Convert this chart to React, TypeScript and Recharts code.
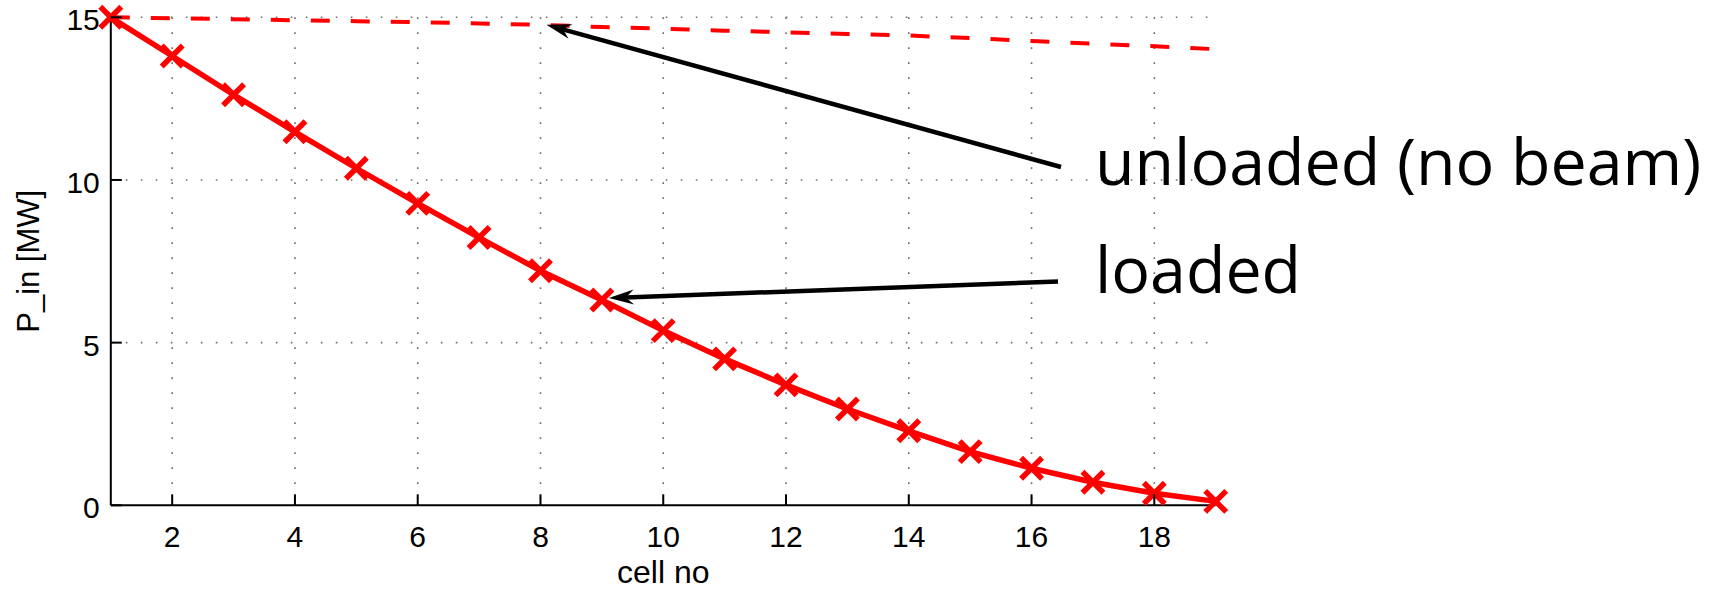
import React from 'react';
import { LineChart, Line, XAxis, YAxis, CartesianGrid } from 'recharts';

// ---- data ----
const cells = [1, 2, 3, 4, 5, 6, 7, 8, 9, 10, 11, 12, 13, 14, 15, 16, 17, 18, 19];
const loaded = [15.0, 13.81, 12.62, 11.48, 10.36, 9.28, 8.23, 7.21, 6.31, 5.37, 4.5, 3.7, 2.96, 2.29, 1.65, 1.14, 0.71, 0.37, 0.12];
const unloaded = [15.0, 14.97, 14.94, 14.91, 14.88, 14.85, 14.81, 14.77, 14.7, 14.65, 14.59, 14.54, 14.49, 14.44, 14.36, 14.27, 14.19, 14.11, 14.02];
const xTicks = [2, 4, 6, 8, 10, 12, 14, 16, 18];
const yTicks = [0, 5, 10, 15];
const xLabel = 'cell no';
const yLabel = 'P_in [MW]';
const noteUnloaded = 'unloaded (no beam)';
const noteLoaded = 'loaded';

const data = cells.map((c, i) => ({ cell: c, loaded: loaded[i], unloaded: unloaded[i] }));

// ---- layout ----
const W = 1723;
const H = 589;
const PLOT_LEFT = 110.8;
const PLOT_RIGHT = 1215.7;
const PLOT_TOP = 17.3;
const PLOT_BOTTOM = 505.3;
const Y_AXIS_W = 100;
const X_AXIS_H = 40;
const X_DOMAIN: [number, number] = [1, 19];
const Y_DOMAIN: [number, number] = [0, 15];
const RED = '#ff0000';
const AXIS_FONT = '"Liberation Sans", Arial, Helvetica, sans-serif';
const NOTE_FONT = '"Open Sans", "Noto Sans", sans-serif';

const px = (x: number) => PLOT_LEFT + ((x - X_DOMAIN[0]) / (X_DOMAIN[1] - X_DOMAIN[0])) * (PLOT_RIGHT - PLOT_LEFT);
const py = (y: number) => PLOT_BOTTOM - ((y - Y_DOMAIN[0]) / (Y_DOMAIN[1] - Y_DOMAIN[0])) * (PLOT_BOTTOM - PLOT_TOP);

const XMark = (props: any) => {
  const { cx, cy } = props;
  if (cx == null || cy == null) return null;
  const s = 10.5;
  return (
    <path
      d={`M${cx - s},${cy - s}L${cx + s},${cy + s}M${cx - s},${cy + s}L${cx + s},${cy - s}`}
      stroke={RED}
      strokeWidth={5.5}
      fill="none"
    />
  );
};

const XTick = (props: any) => {
  const { x, y, payload } = props;
  return (
    <g>
      <line x1={x} y1={y} x2={x} y2={y - 11} stroke="#000" strokeWidth={2} />
      <text x={x} y={y + 41.4} textAnchor="middle" fontSize={30} fontFamily={AXIS_FONT} fill="#000">
        {payload.value}
      </text>
    </g>
  );
};

const YTick = (props: any) => {
  const { x, y, payload } = props;
  return (
    <g>
      <line x1={x} y1={y} x2={x + 11} y2={y} stroke="#000" strokeWidth={2} />
      <text x={x - 11} y={y + 13} textAnchor="end" fontSize={30} fontFamily={AXIS_FONT} fill="#000">
        {payload.value}
      </text>
    </g>
  );
};

const Arrow = ({ x1, y1, x2, y2 }: { x1: number; y1: number; x2: number; y2: number }) => {
  const ang = Math.atan2(y2 - y1, x2 - x1);
  const deg = (ang * 180) / Math.PI;
  const L = 25;
  const hw = 7.5;
  const notch = 17;
  const lineEndX = x2 - Math.cos(ang) * notch;
  const lineEndY = y2 - Math.sin(ang) * notch;
  return (
    <g>
      <line x1={x1} y1={y1} x2={lineEndX} y2={lineEndY} stroke="#000" strokeWidth={4.5} />
      <polygon
        points={`0,0 ${-L},${-hw} ${-notch},0 ${-L},${hw}`}
        fill="#000"
        transform={`translate(${x2},${y2}) rotate(${deg})`}
      />
    </g>
  );
};

export default function App() {
  const tipUnloaded = { x: px(8) + 6, y: py(unloaded[7]) };
  const tipLoaded = { x: px(9) + 7, y: py(loaded[8]) - 2 };
  return (
    <div style={{ position: 'absolute', left: 0, top: 0, width: W, height: H, background: '#fff' }}>
      <LineChart
        width={W}
        height={H}
        data={data}
        margin={{
          top: PLOT_TOP,
          right: W - PLOT_RIGHT,
          left: PLOT_LEFT - Y_AXIS_W,
          bottom: H - PLOT_BOTTOM - X_AXIS_H,
        }}
      >
        <CartesianGrid
          stroke="#6e6e6e"
          strokeWidth={1.6}
          strokeDasharray="1.6 13.4"
          horizontalValues={[5, 10, 15]}
          verticalValues={xTicks}
        />
        <XAxis
          type="number"
          dataKey="cell"
          domain={X_DOMAIN}
          ticks={xTicks}
          height={X_AXIS_H}
          tickSize={0}
          tickMargin={0}
          tickLine={false}
          axisLine={{ stroke: '#000', strokeWidth: 2 }}
          tick={<XTick />}
          interval={0}
          label={{
            content: (p: any) => {
              const vb = p.viewBox || {};
              return (
                <text
                  x={(vb.x ?? PLOT_LEFT) + (vb.width ?? PLOT_RIGHT - PLOT_LEFT) / 2}
                  y={PLOT_BOTTOM + 78}
                  textAnchor="middle"
                  fontSize={32}
                  fontFamily={AXIS_FONT}
                  fill="#000"
                >
                  {xLabel}
                </text>
              );
            },
          }}
        />
        <YAxis
          type="number"
          domain={Y_DOMAIN}
          ticks={yTicks}
          width={Y_AXIS_W}
          tickSize={0}
          tickMargin={0}
          tickLine={false}
          axisLine={{ stroke: '#000', strokeWidth: 2 }}
          tick={<YTick />}
          interval={0}
          label={{
            content: () => {
              const cx = 39;
              const cy = (PLOT_TOP + PLOT_BOTTOM) / 2;
              return (
                <text
                  x={cx}
                  y={cy}
                  textAnchor="middle"
                  fontSize={31}
                  fontFamily={AXIS_FONT}
                  fill="#000"
                  transform={`rotate(-90, ${cx}, ${cy})`}
                >
                  {yLabel}
                </text>
              );
            },
          }}
        />
        <Line
          type="linear"
          dataKey="unloaded"
          stroke={RED}
          strokeWidth={4}
          strokeDasharray="19 21"
          dot={false}
          activeDot={false}
          isAnimationActive={false}
        />
        <Line
          type="linear"
          dataKey="loaded"
          stroke={RED}
          strokeWidth={5.5}
          dot={<XMark />}
          activeDot={false}
          isAnimationActive={false}
        />
      </LineChart>
      <svg
        width={W}
        height={H}
        style={{ position: 'absolute', left: 0, top: 0, pointerEvents: 'none' }}
      >
        <Arrow x1={1061} y1={167} x2={tipUnloaded.x} y2={tipUnloaded.y} />
        <Arrow x1={1058} y1={281.5} x2={tipLoaded.x} y2={tipLoaded.y} />
        <text x={1095} y={185} fontSize={64.5} fontFamily={NOTE_FONT} fill="#000">
          {noteUnloaded}
        </text>
        <text x={1095} y={293} fontSize={64.5} fontFamily={NOTE_FONT} fill="#000">
          {noteLoaded}
        </text>
      </svg>
    </div>
  );
}
